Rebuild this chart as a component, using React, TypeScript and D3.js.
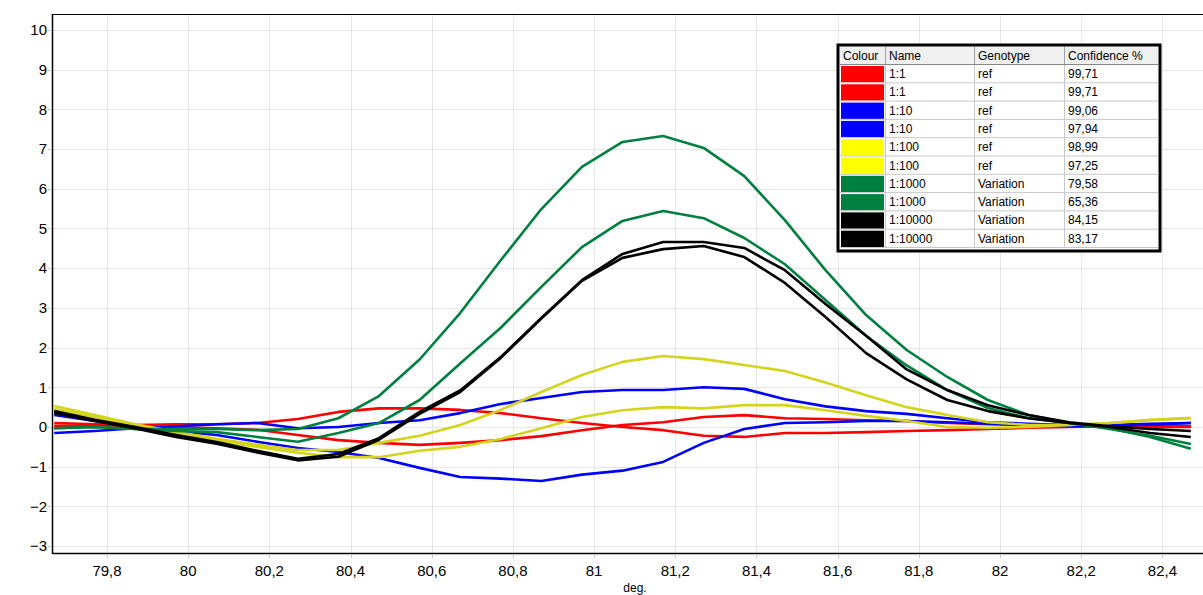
import React from "react";
import * as d3 from "d3";

const W = 1203;
const H = 595;

const xStart = 79.67;
const xStep = 0.1;

const red1 = [0.1, 0.07, 0.05, 0.07, 0.07, 0.1, 0.2, 0.38, 0.47, 0.47, 0.43, 0.35, 0.22, 0.1, 0.0, -0.08, -0.22, -0.25, -0.15, -0.15, -0.13, -0.1, -0.08, -0.05, -0.02, 0.0, 0.02, 0.02, 0.02];
const red2 = [0.03, 0.03, 0.02, 0.0, -0.03, -0.07, -0.2, -0.33, -0.4, -0.45, -0.4, -0.33, -0.23, -0.08, 0.05, 0.12, 0.25, 0.3, 0.22, 0.2, 0.17, 0.15, 0.1, 0.07, 0.05, 0.03, 0.02, 0.0, 0.0];
const blue1 = [-0.15, -0.1, -0.03, 0.02, 0.07, 0.1, -0.03, 0.0, 0.1, 0.17, 0.35, 0.58, 0.73, 0.88, 0.93, 0.93, 1.0, 0.96, 0.7, 0.52, 0.4, 0.33, 0.22, 0.12, 0.08, 0.05, 0.05, 0.08, 0.1];
const blue2 = [0.3, 0.15, 0.0, -0.1, -0.2, -0.37, -0.53, -0.63, -0.78, -1.03, -1.26, -1.3, -1.36, -1.2, -1.1, -0.88, -0.4, -0.05, 0.1, 0.12, 0.15, 0.15, 0.12, 0.08, 0.05, 0.02, 0.03, 0.06, 0.1];
const yellow1 = [0.53, 0.3, 0.07, -0.12, -0.3, -0.45, -0.58, -0.58, -0.4, -0.22, 0.05, 0.43, 0.88, 1.31, 1.64, 1.79, 1.71, 1.56, 1.41, 1.12, 0.8, 0.5, 0.3, 0.12, 0.05, 0.05, 0.1, 0.18, 0.23];
const yellow2 = [0.45, 0.25, 0.05, -0.15, -0.35, -0.5, -0.65, -0.76, -0.76, -0.6, -0.5, -0.3, -0.03, 0.25, 0.42, 0.5, 0.47, 0.55, 0.55, 0.42, 0.28, 0.15, 0.0, -0.02, 0.0, 0.05, 0.1, 0.17, 0.22];
const green1 = [-0.03, 0.0, -0.05, -0.05, -0.05, -0.08, -0.05, 0.22, 0.78, 1.7, 2.87, 4.2, 5.49, 6.55, 7.18, 7.33, 7.03, 6.32, 5.21, 3.95, 2.82, 1.94, 1.26, 0.68, 0.3, 0.1, -0.03, -0.25, -0.55];
const green2 = [-0.03, 0.0, -0.05, -0.1, -0.13, -0.25, -0.37, -0.15, 0.1, 0.68, 1.6, 2.5, 3.53, 4.53, 5.19, 5.44, 5.26, 4.76, 4.1, 3.2, 2.3, 1.55, 0.93, 0.48, 0.22, 0.1, -0.05, -0.22, -0.43];
const black1 = [0.4, 0.18, 0.0, -0.2, -0.38, -0.6, -0.8, -0.68, -0.28, 0.38, 0.92, 1.76, 2.75, 3.7, 4.36, 4.66, 4.66, 4.51, 3.95, 3.1, 2.3, 1.45, 0.93, 0.55, 0.3, 0.12, 0.02, -0.05, -0.1];
const black2 = [0.35, 0.15, -0.04, -0.25, -0.42, -0.64, -0.84, -0.75, -0.32, 0.33, 0.88, 1.74, 2.73, 3.68, 4.26, 4.48, 4.56, 4.28, 3.63, 2.77, 1.86, 1.2, 0.68, 0.4, 0.22, 0.1, 0.0, -0.15, -0.25];

const names = ["1:1", "1:1", "1:10", "1:10", "1:100", "1:100", "1:1000", "1:1000", "1:10000", "1:10000"];
const genotypes = ["ref", "ref", "ref", "ref", "ref", "ref", "Variation", "Variation", "Variation", "Variation"];
const confidences = ["99,71", "99,71", "99,06", "97,94", "98,99", "97,25", "79,58", "65,36", "84,15", "83,17"];
const swatchColors = ["#ff0000", "#ff0000", "#0000ff", "#0000ff", "#ffff00", "#ffff00", "#00803f", "#00803f", "#000000", "#000000"];
const lineColors = ["#ff0000", "#ff0000", "#0000ff", "#0000ff", "#d4d41c", "#d4d41c", "#00803f", "#00803f", "#000000", "#000000"];
const seriesValues = [red1, red2, blue1, blue2, yellow1, yellow2, green1, green2, black1, black2];

const xTicks = [79.8, 80, 80.2, 80.4, 80.6, 80.8, 81, 81.2, 81.4, 81.6, 81.8, 82, 82.2, 82.4];
const yTicks = [-3, -2, -1, 0, 1, 2, 3, 4, 5, 6, 7, 8, 9, 10];

const left = 53;
const right = 1203;
const top = 14;
const bottom = 553;

export default function App() {
  const x = d3.scaleLinear().domain([79.667, 82.5]).range([left, right]);
  const y = d3.scaleLinear().domain([-3.174, 10.403]).range([bottom, top]);
  const fmt = (v: number) => d3.format("")(v).replace(".", ",");

  const line = d3
    .line<number>()
    .x((_, i) => x(xStart + xStep * i))
    .y((d) => y(d));

  const lgX = 838;
  const lgY = 45;
  const colX = [840, 886, 975, 1065, 1158];
  const headerH = 19;
  const rowH = 18.3;
  const font = "'Liberation Sans', Arial, sans-serif";

  return (
    <svg width={W} height={H} style={{ position: "absolute", left: 0, top: 0, background: "#fff" }}>
      <defs>
        <clipPath id="plot">
          <rect x={left} y={top} width={right - left} height={bottom - top} />
        </clipPath>
      </defs>
      <rect x={0} y={0} width={W} height={H} fill="#fff" />
      {yTicks.map((t) => (
        <line key={"gy" + t} x1={left} x2={right} y1={Math.round(y(t)) + 0.5} y2={Math.round(y(t)) + 0.5} stroke="#e6e6e6" strokeWidth={1} />
      ))}
      {xTicks.map((t) => (
        <line key={"gx" + t} x1={Math.round(x(t)) + 0.5} x2={Math.round(x(t)) + 0.5} y1={top} y2={bottom} stroke="#e6e6e6" strokeWidth={1} />
      ))}
      <g clipPath="url(#plot)">
        {seriesValues.map((vals, k) => (
          <path key={"s" + k} d={line(vals) || ""} fill="none" stroke={lineColors[k]} strokeWidth={2.6} strokeLinejoin="round" />
        ))}
      </g>
      <line x1={left - 0.5} x2={left - 0.5} y1={top} y2={bottom + 1} stroke="#000" strokeWidth={1.5} />
      <line x1={left} x2={right} y1={bottom + 0.5} y2={bottom + 0.5} stroke="#000" strokeWidth={1.5} />
      <line x1={left} x2={right} y1={top + 0.5} y2={top + 0.5} stroke="#000" strokeWidth={1} />
      {yTicks.map((t) => (
        <g key={"ty" + t}>
          <line x1={left - 5} x2={left - 1} y1={Math.round(y(t)) + 0.5} y2={Math.round(y(t)) + 0.5} stroke="#c8c8c8" />
          <text x={left - 6} y={y(t)} dy="0.35em" textAnchor="end" fontFamily={font} fontSize={15} fill="#000">
            {fmt(t)}
          </text>
        </g>
      ))}
      {xTicks.map((t) => (
        <g key={"tx" + t}>
          <line x1={Math.round(x(t)) + 0.5} x2={Math.round(x(t)) + 0.5} y1={bottom + 1} y2={bottom + 5} stroke="#c8c8c8" />
          <text x={x(t)} y={576} textAnchor="middle" fontFamily={font} fontSize={15} fill="#000">
            {fmt(t)}
          </text>
        </g>
      ))}
      <text x={635} y={592} textAnchor="middle" fontFamily={font} fontSize={12} fill="#000">
        deg.
      </text>
      <g fontFamily={font} fontSize={12} fill="#000">
        <rect x={lgX} y={lgY} width={1160 - lgX} height={251 - lgY} fill="#fff" stroke="#000" strokeWidth={3} />
        <rect x={colX[0]} y={lgY + 2} width={colX[4] - colX[0]} height={headerH - 2} fill="#f0f0f0" />
        {["Colour", "Name", "Genotype", "Confidence %"].map((h, j) => (
          <g key={"h" + h}>
            <text x={colX[j] + 3} y={lgY + 2 + 13}>{h}</text>
            {j > 0 && <line x1={colX[j] - 0.5} x2={colX[j] - 0.5} y1={lgY + 2} y2={lgY + headerH} stroke="#a0a0a0" />}
          </g>
        ))}
        <line x1={colX[0]} x2={colX[4]} y1={lgY + headerH + 0.5} y2={lgY + headerH + 0.5} stroke="#888" />
        {names.map((n, i) => {
          const ry = lgY + headerH + 1 + i * rowH;
          return (
            <g key={"r" + i}>
              <rect x={colX[0] + 1} y={ry + 1} width={colX[1] - colX[0] - 3} height={rowH - 2} fill={swatchColors[i]} />
              <text x={colX[1] + 3} y={ry + 13}>{n}</text>
              <text x={colX[2] + 3} y={ry + 13}>{genotypes[i]}</text>
              <text x={colX[3] + 3} y={ry + 13}>{confidences[i]}</text>
              <line x1={colX[0]} x2={colX[4]} y1={ry + rowH - 0.5} y2={ry + rowH - 0.5} stroke="#c8c8c8" />
              {[1, 2, 3].map((j) => (
                <line key={j} x1={colX[j] - 0.5} x2={colX[j] - 0.5} y1={ry} y2={ry + rowH} stroke="#c8c8c8" />
              ))}
            </g>
          );
        })}
      </g>
    </svg>
  );
}
